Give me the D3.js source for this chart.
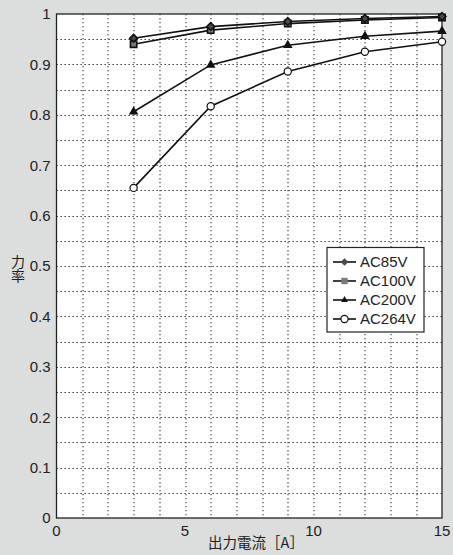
<!DOCTYPE html>
<meta charset="utf-8">
<title>力率</title>
<style>
body { margin: 0; background: #dcdddd; }
svg { display: block; }
text { font-family: "Liberation Sans", Arial, sans-serif; fill: #222; }
.grid line { stroke: #222; stroke-width: 1; stroke-dasharray: 1.3,2.7; }
.series path { fill: none; stroke: #111; stroke-width: 1.6; }
</style>
<body>
<script src="https://d3js.org/d3.v7.min.js"></script>
<script>

// data
var current = [3, 6, 9, 12, 15];
var ac85  = [0.952, 0.975, 0.985, 0.991, 0.995];
var ac100 = [0.940, 0.968, 0.981, 0.988, 0.993];
var ac200 = [0.806, 0.899, 0.938, 0.956, 0.966];
var ac264 = [0.655, 0.817, 0.886, 0.925, 0.945];
var seriesNames = ["AC85V", "AC100V", "AC200V", "AC264V"];
var xTicks = [0, 5, 10, 15];
var yTicks = [0, 0.1, 0.2, 0.3, 0.4, 0.5, 0.6, 0.7, 0.8, 0.9, 1];

var W = 453, H = 555;
var margin = {top: 14, right: 11, bottom: 37, left: 56.5},
    width = W - margin.left - margin.right,
    height = H - margin.top - margin.bottom;

var svg = d3.select("body").append("svg")
    .attr("width", W)
    .attr("height", H);

var g = svg.append("g")
    .attr("transform", "translate(" + margin.left + "," + margin.top + ")");

var x = d3.scaleLinear().domain([0, 15]).range([0, width]);
var y = d3.scaleLinear().domain([0, 1]).range([height, 0]);

// plot background
g.append("rect")
    .attr("width", width)
    .attr("height", height)
    .style("fill", "#fff");

// dotted grid
var grid = g.append("g").attr("class", "grid");
grid.selectAll(".gx")
    .data(d3.range(1, 15))
  .enter().append("line")
    .attr("x1", function(d) { return Math.round(x(d)) + 0.5; })
    .attr("x2", function(d) { return Math.round(x(d)) + 0.5; })
    .attr("y1", 0)
    .attr("y2", height);
grid.selectAll(".gy")
    .data(d3.range(1, 20).map(function(i) { return i * 0.05; }))
  .enter().append("line")
    .attr("y1", function(d) { return Math.round(y(d)) + 0.5; })
    .attr("y2", function(d) { return Math.round(y(d)) + 0.5; })
    .attr("x1", 0)
    .attr("x2", width);

// frame
g.append("rect")
    .attr("width", width)
    .attr("height", height)
    .style("fill", "none")
    .style("stroke", "#222")
    .style("stroke-width", 1.3);

// tick labels
g.selectAll(".ylab")
    .data(yTicks)
  .enter().append("text")
    .attr("x", -6)
    .attr("y", function(d) { return y(d); })
    .attr("dy", "0.36em")
    .attr("text-anchor", "end")
    .style("font-size", "15px")
    .text(function(d) { return d3.format("")(d); });

g.selectAll(".xlab")
    .data(xTicks)
  .enter().append("text")
    .attr("x", function(d) { return x(d); })
    .attr("y", height + 18)
    .attr("text-anchor", "middle")
    .style("font-size", "15px")
    .text(function(d) { return d; });

// axis titles
svg.append("text")
    .attr("x", 256)
    .attr("y", 548)
    .attr("text-anchor", "middle")
    .style("font-family", "'Noto Sans CJK JP', sans-serif")
    .style("font-size", "14.5px")
    .text("出力電流［A］");

// vertical y title, one text element
svg.append("text")
    .attr("x", 18).attr("y", 269)
    .attr("text-anchor", "middle")
    .style("writing-mode", "vertical-rl")
    .style("text-orientation", "upright")
    .style("font-family", "'Noto Sans CJK JP', sans-serif")
    .style("font-size", "14px")
    .text("力率");

// series
var seriesData = [ac85, ac100, ac200, ac264];
var line = d3.line()
    .x(function(d, i) { return x(current[i]); })
    .y(function(d) { return y(d); });

var diamond = d3.symbol().type(d3.symbolSquare).size(30);
var square = d3.symbol().type(d3.symbolSquare).size(40);
var triangle = d3.symbol().type(d3.symbolTriangle).size(20);

function drawMarker(sel, k) {
  if (k === 0) {
    sel.append("path").attr("d", diamond).attr("transform", "rotate(45)").style("fill", "#4a4a4a");
  } else if (k === 1) {
    sel.append("path").attr("d", square).style("fill", "#7a7a7a");
  } else if (k === 2) {
    sel.append("path").attr("d", triangle).style("fill", "#111");
  } else {
    sel.append("circle").attr("r", 3.6)
        .style("fill", "#fff").style("stroke", "#111").style("stroke-width", 1.2);
  }
}

var series = g.append("g").attr("class", "series");
[3, 2, 1, 0].forEach(function(k) {
  var vals = seriesData[k];
  series.append("path").datum(vals).attr("d", line);
  vals.forEach(function(v, i) {
    var m = series.append("g")
        .attr("transform", "translate(" + x(current[i]) + "," + y(v) + ")");
    drawMarker(m, k);
  });
});

// legend
var legend = svg.append("g").attr("transform", "translate(327,247.5)");
legend.append("rect")
    .attr("width", 97)
    .attr("height", 84.5)
    .style("fill", "#fff")
    .style("stroke", "#222")
    .style("stroke-width", 1.2);
seriesNames.forEach(function(name, k) {
  var row = legend.append("g").attr("transform", "translate(0," + (14.5 + k * 19) + ")");
  row.append("line")
      .attr("x1", 6).attr("x2", 29)
      .style("stroke", "#111").style("stroke-width", 1.6);
  var m = row.append("g").attr("transform", "translate(17.5,0)");
  drawMarker(m, k);
  row.append("text")
      .attr("x", 33)
      .attr("dy", "0.36em")
      .style("font-size", "15px")
      .text(name);
});

</script>
</body>
